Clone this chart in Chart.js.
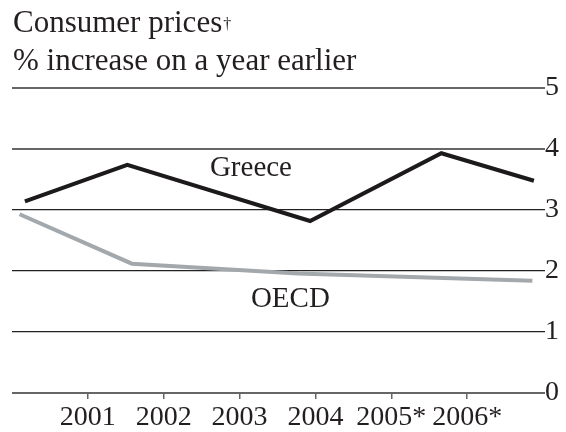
<!DOCTYPE html>
<html>
<head>
<meta charset="utf-8">
<script src="https://cdn.jsdelivr.net/npm/chart.js@4"></script>
<style>
  html, body { margin: 0; padding: 0; background: #fff; }
  #wrap { width: 566px; height: 432px; }
</style>
</head>
<body>
<div id="wrap"><canvas id="chart" width="566" height="432"></canvas></div>
<script>
// Datos (x en años, y en %)
const greeceX = [2000.17, 2001.52, 2003.93, 2005.66, 2006.88];
const greeceY = [3.14, 3.74, 2.82, 3.93, 3.48];
const oecdX = [2000.10, 2001.58, 2003.77, 2006.86];
const oecdY = [2.93, 2.12, 1.96, 1.84];

const yearTicks = [2001, 2002, 2003, 2004, 2005, 2006];
const yearLabels = ['2001', '2002', '2003', '2004', '2005*', '2006*'];
const titleLines = ['Consumer prices', '% increase on a year earlier'];

// Etiquetas de las series, en coordenadas de datos
const seriesNames = ['Greece', 'OECD'];
const seriesLabelX = [2003.15, 2003.67];
const seriesLabelY = [3.56, 1.41];

const FONT = '"Liberation Serif", "Times New Roman", serif';
const TEXT = '#231f20';

const toPoints = (xs, ys) => xs.map((x, i) => ({ x: x, y: ys[i] }));

// Título y nombres de series dibujados como texto
const textPlugin = {
  id: 'textos',
  afterDraw(chart) {
    const ctx = chart.ctx;
    const xs = chart.scales.x, ys = chart.scales.y;
    ctx.save();
    ctx.fillStyle = TEXT;
    ctx.textBaseline = 'alphabetic';
    ctx.textAlign = 'left';
    ctx.font = '31px ' + FONT;
    ctx.fillText(titleLines[0], 13, 32);
    const w = ctx.measureText(titleLines[0]).width;
    ctx.font = '16px ' + FONT;
    ctx.fillText('†', 13 + w + 1, 29);
    ctx.font = '31px ' + FONT;
    ctx.fillText(titleLines[1], 13, 70);
    ctx.font = '29px ' + FONT;
    ctx.textAlign = 'center';
    seriesNames.forEach((name, i) => {
      ctx.fillText(name, xs.getPixelForValue(seriesLabelX[i]), ys.getPixelForValue(seriesLabelY[i]));
    });
    ctx.restore();
  }
};

new Chart(document.getElementById('chart'), {
  type: 'line',
  data: {
    datasets: [
      {
        label: 'OECD',
        data: toPoints(oecdX, oecdY),
        borderColor: '#a3a8ac',
        borderWidth: 4,
        pointRadius: 0,
        tension: 0,
        fill: false
      },
      {
        label: 'Greece',
        data: toPoints(greeceX, greeceY),
        borderColor: '#1c1a1a',
        borderWidth: 4,
        pointRadius: 0,
        tension: 0,
        fill: false
      }
    ]
  },
  options: {
    responsive: false,
    animation: false,
    layout: { padding: { left: 12, top: 88, right: 0, bottom: 0 } },
    plugins: {
      legend: { display: false },
      tooltip: { enabled: false },
      title: { display: false }
    },
    scales: {
      x: {
        type: 'linear',
        min: 2000,
        max: 2007,
        afterBuildTicks: (axis) => { axis.ticks = yearTicks.map(v => ({ value: v })); },
        afterFit: (s) => { s.height = 39; },
        border: { display: false },
        grid: {
          drawOnChartArea: false,
          drawTicks: true,
          tickLength: 6,
          color: '#666',
          lineWidth: 1.5
        },
        ticks: {
          padding: 2,
          maxRotation: 0,
          autoSkip: false,
          color: TEXT,
          font: { family: FONT, size: 28 },
          callback: (v) => yearLabels[yearTicks.indexOf(v)]
        }
      },
      y: {
        position: 'right',
        min: 0,
        max: 5,
        afterFit: (s) => { s.width = 23; },
        border: { display: false },
        grid: {
          drawOnChartArea: true,
          drawTicks: true,
          tickLength: 2,
          color: (c) => (c.tick && (c.tick.value === 5 || c.tick.value === 4 || c.tick.value === 0)) ? '#666' : '#222',
          lineWidth: (c) => (c.tick && (c.tick.value === 5 || c.tick.value === 4 || c.tick.value === 0)) ? 2 : 1.2
        },
        ticks: {
          stepSize: 1,
          padding: 0,
          color: TEXT,
          font: { family: FONT, size: 28 }
        }
      }
    }
  },
  plugins: [textPlugin]
});
</script>
</body>
</html>
